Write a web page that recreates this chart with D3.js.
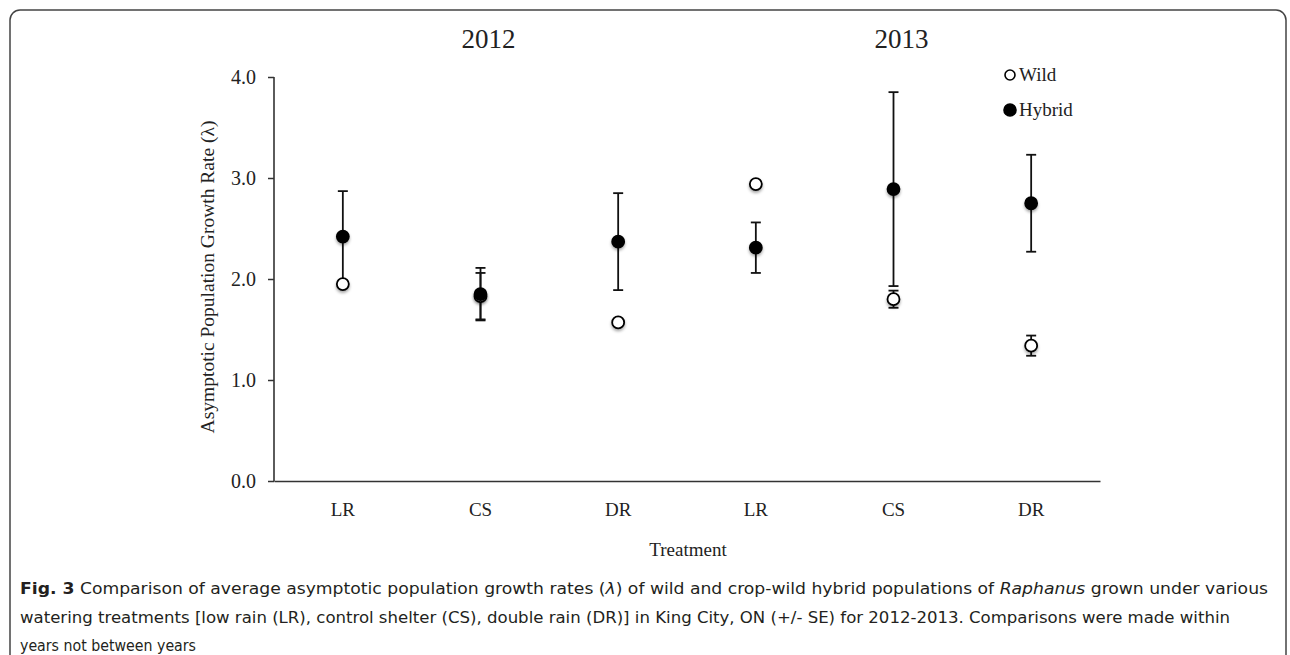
<!DOCTYPE html>
<head>
  <meta charset="utf-8">
  <script src="https://d3js.org/d3.v7.min.js"></script>
  <style>
    body { margin:0; background:#fff; }
    .serif { font-family: "Liberation Serif", "Times New Roman", serif; fill:#222; }
    .cap { font-family: "DejaVu Sans Condensed", "DejaVu Sans", sans-serif; font-size:16px; fill:#231f20; }
  </style>
</head>
<body>
  <svg width="1290" height="655"></svg>
  <script>
    var svg = d3.select("svg");

    // data
    var categories = ["LR 2012", "CS 2012", "DR 2012", "LR 2013", "CS 2013", "DR 2013"];
    var tickLabels = ["LR", "CS", "DR", "LR", "CS", "DR"];
    var years = ["2012", "2013"];
    var wildMean  = [1.95, 1.83, 1.57, 2.94, 1.80, 1.34];
    var wildSE    = [0,    0.23, 0,    0,    0.085, 0.10];
    var hybridMean = [2.42, 1.85, 2.37, 2.31, 2.89, 2.75];
    var hybridSE   = [0.45, 0.26, 0.48, 0.25, 0.96, 0.48];
    var yTicks = [0, 1, 2, 3, 4];

    // plot box (window.top is reserved, so use other names)
    var pLeft = 274, pRight = 1100, pTop = 77, pBottom = 481;

    var x = d3.scaleBand().domain(categories).range([pLeft, pRight]);
    var y = d3.scaleLinear().domain([0, 4]).range([pBottom, pTop]);

    // frame
    svg.append("rect")
      .attr("x", 10).attr("y", 10).attr("width", 1276).attr("height", 700)
      .attr("rx", 10)
      .attr("fill", "none").attr("stroke", "#444").attr("stroke-width", 1.5);

    var defs = svg.append("defs");
    var f = defs.append("filter").attr("id", "shadow")
      .attr("x", "-50%").attr("y", "-50%").attr("width", "200%").attr("height", "200%");
    f.append("feDropShadow").attr("dx", 0).attr("dy", 2).attr("stdDeviation", 1.6)
      .attr("flood-color", "#000").attr("flood-opacity", 0.35);

    // axes
    var yAxis = svg.append("g")
      .attr("transform", "translate(" + pLeft + ",0)")
      .call(d3.axisLeft(y).tickValues(yTicks).tickFormat(d3.format(".1f")).tickSize(6).tickPadding(12));
    yAxis.select(".domain").attr("stroke", "#333").attr("stroke-width", 1.6).attr("d", "M0," + (pBottom + 0.5) + "V" + pTop);
    yAxis.selectAll(".tick line").attr("stroke", "#333").attr("stroke-width", 1.5);
    yAxis.selectAll(".tick text").attr("class", "serif").style("font-size", "20px");

    var xAxis = svg.append("g")
      .attr("transform", "translate(0," + pBottom + ")")
      .call(d3.axisBottom(x).tickSize(0).tickPadding(22).tickFormat(function(d, i) { return tickLabels[i]; }));
    xAxis.select(".domain").attr("stroke", "#333").attr("stroke-width", 1.6);
    xAxis.selectAll(".tick text").attr("class", "serif").style("font-size", "19px");

    // year titles
    svg.selectAll(".year")
      .data(years)
      .enter().append("text")
      .attr("class", "serif")
      .attr("x", function(d, i) { return x(categories[i * 3 + 1]) + x.bandwidth() / 2 + 8; })
      .attr("y", 48)
      .attr("text-anchor", "middle")
      .style("font-size", "27px")
      .text(function(d) { return d; });

    // axis titles
    svg.append("text").attr("class", "serif")
      .attr("transform", "translate(214," + ((pTop + pBottom) / 2 - 2) + ") rotate(-90)")
      .attr("text-anchor", "middle").style("font-size", "19.5px")
      .text("Asymptotic Population Growth Rate (\u03bb)");
    svg.append("text").attr("class", "serif")
      .attr("x", (pLeft + pRight) / 2 + 1).attr("y", 556)
      .attr("text-anchor", "middle").style("font-size", "19px")
      .text("Treatment");

    function cx(i) { return x(categories[i]) + x.bandwidth() / 2; }

    function drawErrors(mean, se) {
      var bars = svg.append("g").selectAll(".err")
        .data(mean.map(function(m, i) { return {m: m, s: se[i], i: i}; }).filter(function(d) { return d.s > 0; }))
        .enter().append("g").attr("stroke", "#111").attr("stroke-width", 1.8);
      bars.append("line")
        .attr("x1", function(d) { return cx(d.i); }).attr("x2", function(d) { return cx(d.i); })
        .attr("y1", function(d) { return y(d.m + d.s); }).attr("y2", function(d) { return y(d.m - d.s); });
      [1, -1].forEach(function(sign) {
        bars.append("line")
          .attr("x1", function(d) { return cx(d.i) - 5; }).attr("x2", function(d) { return cx(d.i) + 5; })
          .attr("y1", function(d) { return y(d.m + sign * d.s); }).attr("y2", function(d) { return y(d.m + sign * d.s); });
      });
    }

    function drawPoints(mean, fill) {
      svg.append("g").selectAll("circle")
        .data(mean).enter().append("circle")
        .attr("cx", function(d, i) { return cx(i); })
        .attr("cy", function(d) { return y(d); })
        .attr("r", 6)
        .attr("fill", fill).attr("stroke", "#000").attr("stroke-width", 1.8)
        .attr("filter", "url(#shadow)");
    }

    drawErrors(hybridMean, hybridSE);
    drawErrors(wildMean, wildSE);
    drawPoints(wildMean, "#fff");
    drawPoints(hybridMean, "#000");

    // legend
    var legend = [{name: "Wild", fill: "#fff", r: 5}, {name: "Hybrid", fill: "#000", r: 6}];
    var lg = svg.selectAll(".leg").data(legend).enter().append("g")
      .attr("transform", function(d, i) { return "translate(1010," + (75 + i * 35) + ")"; });
    lg.append("circle").attr("r", function(d) { return d.r; })
      .attr("fill", function(d) { return d.fill; }).attr("stroke", "#000").attr("stroke-width", 1.6);
    lg.append("text").attr("class", "serif").attr("x", 9).attr("y", 6)
      .style("font-size", "19px").text(function(d) { return d.name; });

    // caption
    var cap = svg.append("g").attr("class", "cap");
    var l1 = cap.append("text").attr("x", 20).attr("y", 594).attr("textLength", 1248).attr("lengthAdjust", "spacingAndGlyphs");
    l1.append("tspan").style("font-weight", "bold").text("Fig. 3");
    l1.append("tspan").text(" Comparison of average asymptotic population growth rates (");
    l1.append("tspan").style("font-style", "italic").text("\u03bb");
    l1.append("tspan").text(") of wild and crop-wild hybrid populations of ");
    l1.append("tspan").style("font-style", "italic").text("Raphanus");
    l1.append("tspan").text(" grown under various");
    cap.append("text").attr("x", 20).attr("y", 623).attr("textLength", 1210).attr("lengthAdjust", "spacingAndGlyphs")
      .text("watering treatments [low rain (LR), control shelter (CS), double rain (DR)] in King City, ON (+/- SE) for 2012-2013. Comparisons were made within");
    cap.append("text").attr("x", 20).attr("y", 651).attr("textLength", 176).attr("lengthAdjust", "spacingAndGlyphs")
      .text("years not between years");
  </script>
</body>
